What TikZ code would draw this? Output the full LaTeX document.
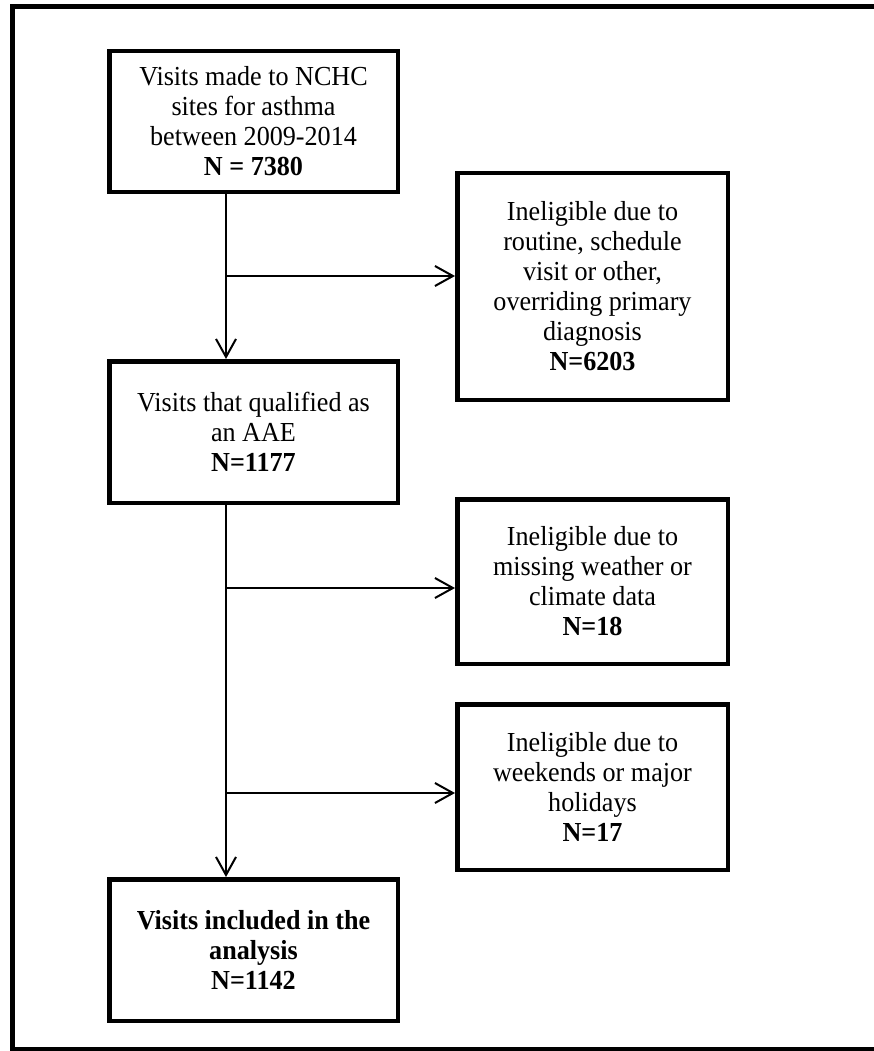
\documentclass[tikz,border=0pt]{standalone}
\usepackage{fontspec}
\setmainfont[FakeStretch=0.95]{Liberation Serif}
\usetikzlibrary{arrows.meta, positioning}

\begin{document}
\begin{tikzpicture}[x=1pt, y=-1pt,
        box/.style={rectangle, draw, line width=4.5pt, align=center, inner sep=0pt,
            font=\fontsize{27.5}{30}\selectfont},
        wide/.style={box, minimum width=288.5pt},
        side/.style={box, minimum width=270.5pt},
        flow/.style={line width=2pt, -{Straight Barb[length=18pt, width=20pt, line width=2pt]}}]
        \useasboundingbox (0, 0) rectangle (874, 1051);
        % frame
        \draw[line width=5pt] (874, 7) -- (12.5, 7) -- (12.5, 1049) -- (874, 1049);

        \node[wide, minimum height=140.5pt] (visits) at (253.5, 121.5) {Visits made to NCHC\\sites for asthma\\between 2009-2014\\\textbf{N = 7380}};
        \node[side, minimum height=226.5pt] (routine) at (592.5, 286.5) {Ineligible due to\\routine, schedule\\visit or other,\\overriding primary\\diagnosis\\\textbf{N=6203}};
        \node[wide, minimum height=141.5pt] (aae) at (253.5, 432) {Visits that qualified as\\an AAE\\\textbf{N=1177}};
        \node[side, minimum height=164.5pt] (weather) at (592.5, 581.5) {Ineligible due to\\missing weather or\\climate data\\\textbf{N=18}};
        \node[side, minimum height=165.5pt] (weekend) at (592.5, 787) {Ineligible due to\\weekends or major\\holidays\\\textbf{N=17}};
        \node[wide, minimum height=141.5pt, font=\fontsize{27.5}{30}\selectfont\bfseries] (incl) at (253.5, 950) {Visits included in the\\analysis\\N=1142};

        \coordinate (s1) at (226, 276);
        \coordinate (s2) at (226, 588);
        \coordinate (s3) at (226, 793);

        \draw[flow] ([xshift=-27.5pt]visits.south) -- ([xshift=-27.5pt]aae.north);
        \draw[flow] ([xshift=-27.5pt]aae.south) -- ([xshift=-27.5pt]incl.north);
        \draw[flow] (s1) -- (s1 -| routine.west);
        \draw[flow] (s2) -- (s2 -| weather.west);
        \draw[flow] (s3) -- (s3 -| weekend.west);
\end{tikzpicture}
\end{document}
